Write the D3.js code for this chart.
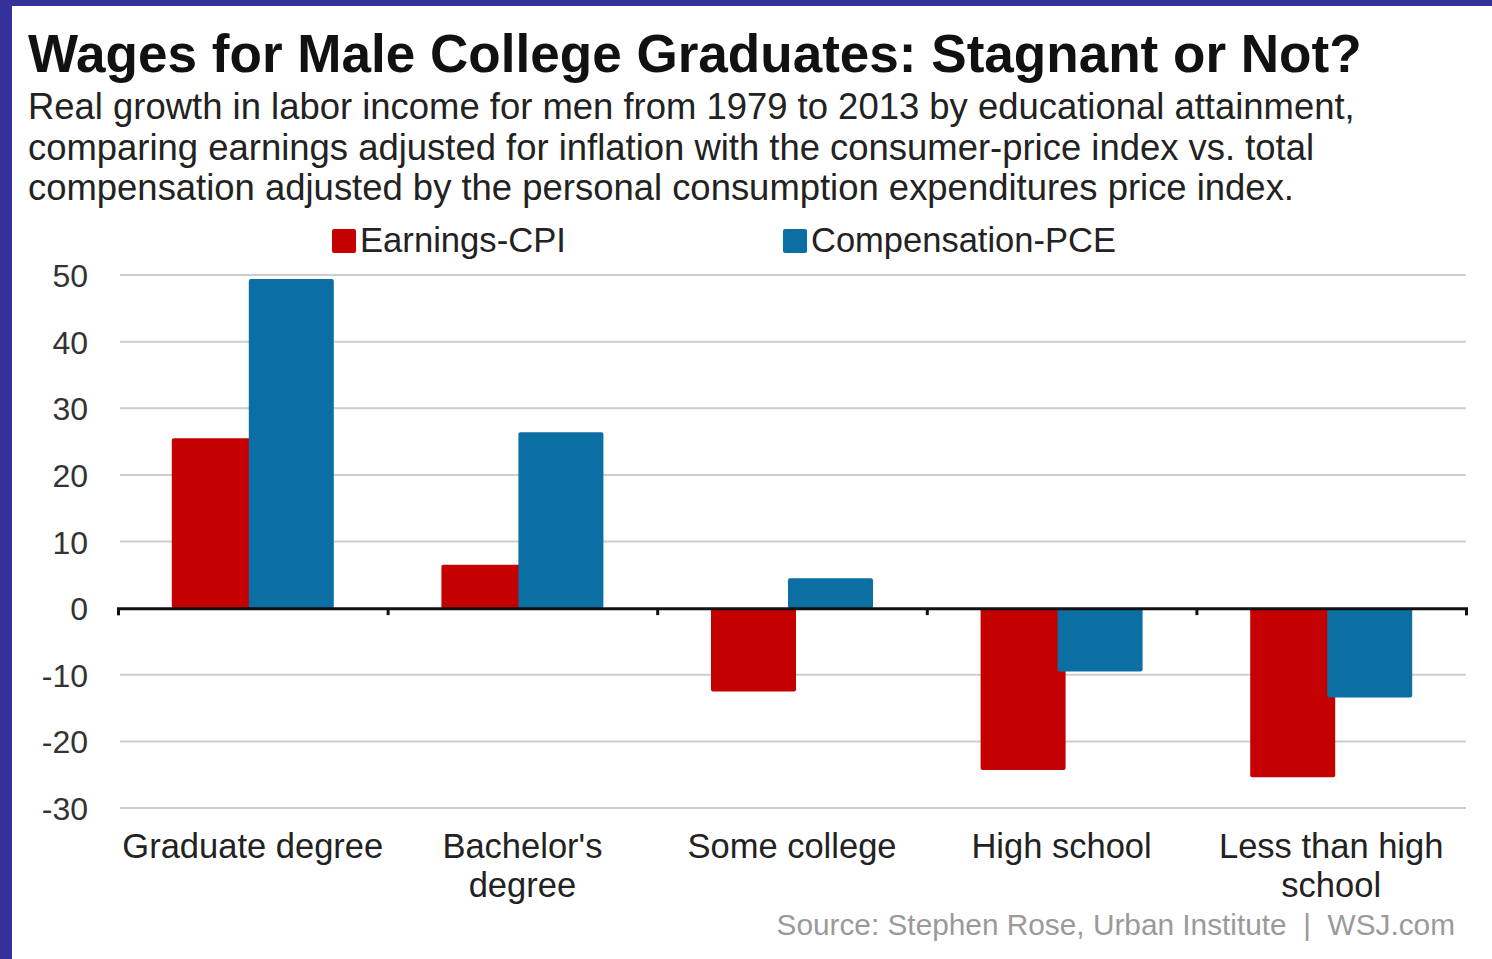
<!DOCTYPE html>
<html><head><meta charset="utf-8">
<script src="https://cdn.jsdelivr.net/npm/d3@7"></script>
<style>html,body{margin:0;padding:0;background:#36309a;}svg{display:block;}</style>
</head><body>
<script>
const categories = ["Graduate degree", "Bachelor's degree", "Some college", "High school", "Less than high school"];
const categoryLines = [["Graduate degree"], ["Bachelor's", "degree"], ["Some college"], ["High school"], ["Less than high", "school"]];
const seriesNames = ["Earnings-CPI", "Compensation-PCE"];
const earningsCPI = [25.5, 6.5, -12.5, -24.3, -25.4];
const compensationPCE = [49.4, 26.4, 4.5, -9.5, -13.4];
const yTicks = [50, 40, 30, 20, 10, 0, -10, -20, -30];
const titleText = "Wages for Male College Graduates: Stagnant or Not?";
const subtitleLines = [
  "Real growth in labor income for men from 1979 to 2013 by educational attainment,",
  "comparing earnings adjusted for inflation with the consumer-price index vs. total",
  "compensation adjusted by the personal consumption expenditures price index."
];
const sourceText = "Source: Stephen Rose, Urban Institute  |  WSJ.com";
const colors = ["#c40000", "#0b6fa4"];

const W = 1492, H = 959;
const font = "'Liberation Sans', Arial, sans-serif";
const svg = d3.select("body").append("svg").attr("width", W).attr("height", H);
svg.append("rect").attr("x", 12).attr("y", 6).attr("width", W - 12).attr("height", H - 6).attr("fill", "#fff");

function fit(sel, target) {
  const w = sel.node().getComputedTextLength();
  const fs = parseFloat(sel.attr("font-size"));
  sel.attr("font-size", fs * target / w);
}

const title = svg.append("text").attr("x", 28).attr("y", 72).attr("font-family", font)
  .attr("font-weight", "bold").attr("font-size", 44).attr("fill", "#111").text(titleText);
fit(title, 1334);

const subW = [1327, 1286, 1266];
subtitleLines.forEach((s, i) => {
  const t = svg.append("text").attr("x", 28).attr("y", 119 + i * 40.5).attr("font-family", font)
    .attr("font-size", 30).attr("fill", "#222").text(s);
  fit(t, subW[i]);
});

const y = d3.scaleLinear().domain([-30, 50]).range([808, 275]);
const x = d3.scaleBand().domain(categories).range([118, 1466]).paddingInner(0).paddingOuter(0);
const xs = d3.scalePoint().domain(seriesNames).range([-38.5, 38.5]);
const barW = 85;

// gridlines
svg.append("g").selectAll("line").data(yTicks.filter(d => d !== 0)).join("line")
  .attr("x1", 120).attr("x2", 1466).attr("y1", d => y(d)).attr("y2", d => y(d))
  .attr("stroke", "#cdcdcd").attr("stroke-width", 2);

// y axis labels
const yAxis = svg.append("g").attr("transform", "translate(88,0)")
  .call(d3.axisLeft(y).tickValues(yTicks).tickSize(0).tickPadding(0).tickFormat(d => String(d)));
yAxis.select(".domain").remove();
yAxis.selectAll("text").attr("font-family", font).attr("font-size", 32).attr("fill", "#333").attr("dy", "0.36em");

// bars
const series = [earningsCPI, compensationPCE];
series.forEach((vals, si) => {
  svg.append("g").selectAll("rect").data(categories).join("rect")
    .attr("x", (c) => x(c) + x.bandwidth() / 2 + xs(seriesNames[si]) - barW / 2)
    .attr("width", barW)
    .attr("y", (c, i) => y(Math.max(0, vals[i])))
    .attr("height", (c, i) => Math.abs(y(vals[i]) - y(0)))
    .attr("rx", 2)
    .attr("fill", colors[si]);
});

// zero axis with ticks at band boundaries
const xb = d3.scaleLinear().domain([0, categories.length]).range([118, 1466]);
const zAxis = svg.append("g").attr("transform", `translate(0,${y(0)})`)
  .call(d3.axisBottom(xb).ticks(categories.length).tickSize(7).tickSizeOuter(7).tickFormat(""));
zAxis.select(".domain").attr("stroke", "#111").attr("stroke-width", 3);
zAxis.selectAll(".tick line").attr("stroke", "#111").attr("stroke-width", 3);

// x labels
const xl = svg.append("g");
categories.forEach((c, i) => {
  const t = xl.append("text").attr("x", x(c) + x.bandwidth() / 2).attr("y", 858)
    .attr("text-anchor", "middle").attr("font-family", font).attr("font-size", 34.5).attr("fill", "#222");
  categoryLines[i].forEach((ln, j) => {
    t.append("tspan").attr("x", x(c) + x.bandwidth() / 2).attr("dy", j === 0 ? 0 : 39).text(ln);
  });
});

// legend
const legX = [332, 783];
const legW = [206, 305];
seriesNames.forEach((s, i) => {
  svg.append("rect").attr("x", legX[i]).attr("y", 229).attr("width", 24).attr("height", 24)
    .attr("rx", 2).attr("fill", colors[i]);
  const t = svg.append("text").attr("x", legX[i] + 28).attr("y", 252).attr("font-family", font)
    .attr("font-size", 33).attr("fill", "#222").text(s);
  fit(t, legW[i]);
});

// source
const src = svg.append("text").attr("x", 1455).attr("y", 935).attr("text-anchor", "end")
  .attr("font-family", font).attr("font-size", 27).attr("fill", "#9a9a9a").attr("xml:space", "preserve").text(sourceText);
fit(src, 679);
</script>
</body></html>
